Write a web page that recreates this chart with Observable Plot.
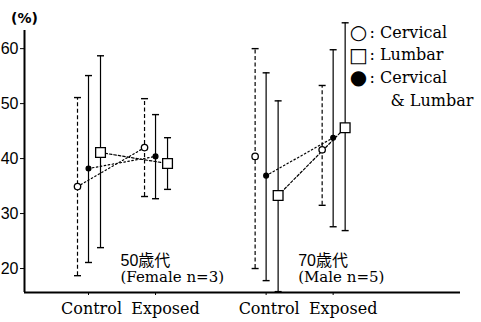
<!DOCTYPE html>
<html><head><meta charset="utf-8">
<script src="https://cdn.jsdelivr.net/npm/d3@7"></script>
<script src="https://cdn.jsdelivr.net/npm/@observablehq/plot@0.6"></script>
<style>
body{margin:0;background:#fff;}
#chart svg{display:block;}
svg [aria-label^="y-axis"] text{font-family:"Liberation Sans",Arial,sans-serif !important;font-size:16px !important;}
</style></head><body><div id="chart"></div>
<script>
// ---- data ----
const series = ["Cervical", "Lumbar", "Cervical & Lumbar"];
const groups = ["50歳代", "70歳代"];
const groupNotes = ["(Female n=3)", "(Male n=5)"];
const conditions = ["Control", "Exposed"];
const yTicks = [20, 30, 40, 50, 60];
// order: [50 Control, 50 Exposed, 70 Control, 70 Exposed]
const cervicalMean = [34.9, 42.0, 40.4, 41.6];
const cervicalHigh = [51.1, 50.9, 60.0, 53.3];
const cervicalLow  = [18.7, 33.1, 20.0, 31.5];
const lumbarMean = [41.1, 39.1, 33.3, 45.6];
const lumbarHigh = [58.7, 43.8, 50.5, 64.7];
const lumbarLow  = [23.8, 34.4, 15.8, 26.9];
const bothMean = [38.2, 40.4, 36.9, 43.8];
const bothHigh = [55.1, 48.0, 55.6, 59.8];
const bothLow  = [21.1, 32.7, 17.8, 27.6];
// whether Control and Exposed are joined, per series per group
const connected = [[true, false], [true, true], [true, true]];

const means = [cervicalMean, lumbarMean, bothMean];
const highs = [cervicalHigh, lumbarHigh, bothHigh];
const lows = [cervicalLow, lumbarLow, bothLow];

// ---- layout / style ----
const groupStep = 2.65;
const styles = [
  {dx: -11, dash: "4,2.5", symbol: "circle", r: 3.2, fill: "white", link: "1.5,2.5", glyph: "○"},
  {dx: 12, dash: null, symbol: "square", r: 5.5, fill: "white", link: "2.5,2", glyph: "□"},
  {dx: 0, dash: null, symbol: "circle", r: 2.4, fill: "black", link: "1.5,2.5", glyph: "●"}
];
const labelDx = [3, 10];
const cap = {draw(ctx, size) { const w = Math.sqrt(size / Math.PI); ctx.moveTo(-w, 0); ctx.lineTo(w, 0); }};

const rows = [];
series.forEach((s, si) => groups.forEach((g, gi) => conditions.forEach((c, ci) => {
  const k = gi * 2 + ci;
  rows.push({series: s, group: g, condition: c, slot: gi * groupStep + ci,
    mean: means[si][k], low: lows[si][k], high: highs[si][k], linked: connected[si][gi]});
})));
const slots = [];
groups.forEach((g, gi) => conditions.forEach((c, ci) => slots.push({slot: gi * groupStep + ci, condition: c})));
const groupRows = groups.map((g, gi) => ({group: g, note: groupNotes[gi], slot: gi * groupStep}));

const marks = [];
series.forEach((s, si) => {
  const st = styles[si];
  const data = rows.filter(d => d.series === s);
  marks.push(Plot.ruleX(data, {x: "slot", y1: "low", y2: "high", dx: st.dx, stroke: "black", strokeWidth: 1.2, strokeDasharray: st.dash}));
  marks.push(Plot.dot(data, {x: "slot", y: "high", dx: st.dx, symbol: cap, r: 3.5, stroke: "black", fill: "none", strokeWidth: 1.4}));
  marks.push(Plot.dot(data, {x: "slot", y: "low", dx: st.dx, symbol: cap, r: 3.5, stroke: "black", fill: "none", strokeWidth: 1.4}));
  marks.push(Plot.line(data.filter(d => d.linked), {x: "slot", y: "mean", z: "group", dx: st.dx, stroke: "black", strokeWidth: 1.2, strokeDasharray: st.link}));
});
series.forEach((s, si) => {
  const st = styles[si];
  const data = rows.filter(d => d.series === s);
  marks.push(Plot.dot(data, {x: "slot", y: "mean", dx: st.dx, symbol: st.symbol, r: st.r, fill: st.fill, stroke: "black", strokeWidth: 1.3}));
});

// x category labels (typeset slightly right of the ticks, as in the original)
conditions.forEach((c, ci) => {
  marks.push(Plot.text(slots.filter(d => d.condition === c), {x: "slot", text: "condition", frameAnchor: "bottom", dx: labelDx[ci], dy: 16, textAnchor: "middle", lineAnchor: "middle", fontSize: 16, fontFamily: "DejaVu Serif", fill: "black"}));
});

// legend
const rowDy = k => 2 + k * 22.7;
series.forEach((s, si) => {
  const parts = s.split(" & ");
  marks.push(Plot.text([styles[si].glyph], {text: d => d, frameAnchor: "top-right", dx: -102, dy: rowDy(si), textAnchor: "middle", lineAnchor: "middle", fontSize: 20, fontFamily: "DejaVu Sans", fill: "black"}));
  marks.push(Plot.text([": " + parts[0]], {text: d => d, frameAnchor: "top-right", dx: -91, dy: rowDy(si), textAnchor: "start", lineAnchor: "middle", fontSize: 16, fontFamily: "DejaVu Serif", fill: "black"}));
  if (parts[1]) marks.push(Plot.text(["& " + parts[1]], {text: d => d, frameAnchor: "top-right", dx: -70, dy: rowDy(si + 1), textAnchor: "start", lineAnchor: "middle", fontSize: 16, fontFamily: "DejaVu Serif", fill: "black"}));
});

// group annotations
marks.push(Plot.text(groupRows, {x: "slot", text: "group", frameAnchor: "bottom", dx: 32, dy: -32, textAnchor: "start", lineAnchor: "middle", fontSize: 16, fontFamily: "Liberation Sans, Noto Sans CJK JP", fill: "black"}));
marks.push(Plot.text(groupRows, {x: "slot", text: "note", frameAnchor: "bottom", dx: 32, dy: -15, textAnchor: "start", lineAnchor: "middle", fontSize: 15, fontFamily: "DejaVu Serif", fill: "black"}));
// unit label
marks.push(Plot.text(["(%)"], {text: d => d, frameAnchor: "top-left", dx: 0, dy: -12, textAnchor: "middle", lineAnchor: "middle", fontSize: 14, fontFamily: "DejaVu Sans", fontWeight: "bold", fill: "black"}));

const xDomain = [-0.955, 5.55];
const yDomain = [15.64, 63.3];
marks.push(Plot.ruleY([yDomain[0]], {stroke: "black", strokeWidth: 2}));
marks.push(Plot.ruleX([xDomain[0]], {stroke: "black", strokeWidth: 2}));

const chart = Plot.plot({
  width: 481, height: 322,
  marginLeft: 24, marginRight: 21, marginTop: 30, marginBottom: 30,
  style: {background: "white", color: "black"},
  x: {type: "linear", domain: xDomain, ticks: slots.map(d => d.slot),
      tickFormat: () => "", tickSize: 3, tickPadding: 0, label: null},
  y: {domain: yDomain, ticks: yTicks, tickFormat: d => String(d), tickSize: 4, tickPadding: 2, label: null},
  marks
});
document.getElementById("chart").appendChild(chart);
</script></body></html>
